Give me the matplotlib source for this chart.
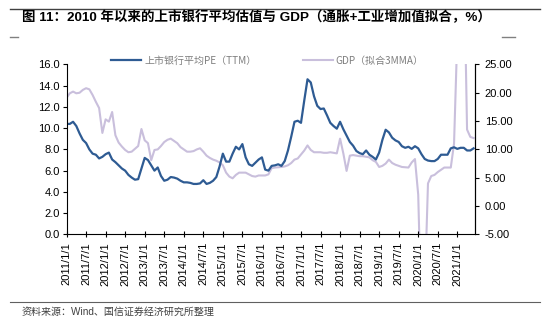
import matplotlib
matplotlib.use('Agg')
import matplotlib.pyplot as plt
import numpy as np

plt.rcParams['font.family'] = ['Liberation Sans', 'Noto Sans CJK SC', 'DejaVu Sans']

# Data (monthly, first point 2011/1)
pe_ttm = [10.4, 10.4, 10.6, 10.2, 9.5, 8.9, 8.6, 8.0, 7.6, 7.5, 7.15, 7.3, 7.55, 7.7, 7.05, 6.8,
          6.5, 6.2, 6.0, 5.6, 5.35, 5.15, 5.2, 6.2, 7.2, 7.0, 6.5, 6.0, 6.3, 5.5, 5.05, 5.15,
          5.4, 5.35, 5.25, 5.05, 4.9, 4.9, 4.85, 4.75, 4.75, 4.8, 5.1, 4.75, 4.85, 5.05, 5.4, 6.4,
          7.6, 6.85, 6.85, 7.6, 8.25, 8.0, 8.5, 7.25, 6.6, 6.45, 6.75, 7.05, 7.25, 6.1, 6.0, 6.45,
          6.5, 6.6, 6.45, 6.9, 7.9, 9.2, 10.6, 10.7, 10.5, 12.6, 14.6, 14.3, 13.0, 12.1, 11.8, 11.85,
          11.2, 10.5, 10.2, 9.95, 10.6, 9.9, 9.3, 8.7, 8.35, 7.85, 7.65, 7.55, 7.9, 7.5, 7.3, 7.05,
          7.7, 8.9, 9.85, 9.6, 9.1, 8.85, 8.7, 8.3, 8.15, 8.25, 8.05, 8.3, 8.1, 7.55, 7.1, 6.95,
          6.9, 6.9, 7.1, 7.5, 7.5, 7.5, 8.1, 8.2, 8.05, 8.15, 8.15, 7.9, 7.9, 8.1]
gdp_fit = [19.1, 19.9, 20.2, 19.9, 20.0, 20.5, 20.8, 20.6, 19.6, 18.4, 17.3, 12.9, 15.3, 14.9, 16.6, 12.5,
           11.2, 10.5, 9.9, 9.5, 9.6, 10.1, 10.6, 13.6, 11.6, 11.1, 8.1, 9.9, 10.0, 10.6, 11.3, 11.7,
           11.9, 11.5, 11.1, 10.4, 10.0, 9.6, 9.6, 9.7, 10.0, 10.2, 9.6, 8.9, 8.5, 8.2, 8.0, 7.7,
           7.2, 5.9, 5.2, 4.9, 5.5, 5.9, 5.9, 5.9, 5.6, 5.3, 5.2, 5.4, 5.4, 5.4, 5.6, 6.7,
           6.8, 6.85, 6.9, 7.0, 7.2, 7.6, 8.2, 8.4, 9.1, 9.8, 10.7, 9.9, 9.5, 9.5, 9.5, 9.4,
           9.4, 9.5, 9.4, 9.3, 11.9, 9.3, 6.2, 8.9, 9.0, 8.9, 8.8, 8.8, 8.7, 8.6, 8.1, 7.8,
           6.9, 7.1, 7.5, 8.2, 7.6, 7.3, 7.1, 6.9, 6.85, 6.8, 7.7, 8.3, 2.0, -20.0, -15.0, 4.0,
           5.3, 5.5, 6.0, 6.4, 6.8, 6.8, 6.8, 11.0, 30.0, 40.0, 45.0, 13.5, 12.2, 12.0]
tick_labels = ['2011/1/1', '2011/7/1', '2012/1/1', '2012/7/1', '2013/1/1', '2013/7/1', '2014/1/1',
               '2014/7/1', '2015/1/1', '2015/7/1', '2016/1/1', '2016/7/1', '2017/1/1', '2017/7/1',
               '2018/1/1', '2018/7/1', '2019/1/1', '2019/7/1', '2020/1/1', '2020/7/1', '2021/1/1']
pe_label = '上市银行平均PE（TTM）'
gdp_label = 'GDP（拟合3MMA）'
title = '图 11：2010 年以来的上市银行平均估值与 GDP（通胀+工业增加值拟合，%）'
source = '资料来源：Wind、国信证券经济研究所整理'

x = np.arange(len(pe_ttm))

fig = plt.figure(figsize=(5.5, 3.22), dpi=100)
ax = fig.add_axes([0.121, 0.272, 0.743, 0.528])
ax2 = ax.twinx()

l2, = ax2.plot(x, gdp_fit, color='#C9BFDC', lw=1.5)
l1, = ax.plot(x, pe_ttm, color='#2E5B93', lw=1.6)
ax.set_zorder(ax2.get_zorder() + 1)
ax.patch.set_visible(False)

ax.set_xlim(0, 125.5)
ax.set_ylim(0, 16)
ax.set_yticks(np.arange(0, 16.1, 2))
ax.set_yticklabels([f'{v:.1f}' for v in np.arange(0, 16.1, 2)])
ax2.set_ylim(-5, 25)
ax2.set_yticks(np.arange(-5, 25.1, 5))
ax2.set_yticklabels([f'{v:.2f}' for v in np.arange(-5, 25.1, 5)])

ax.set_xticks(np.arange(len(tick_labels)) * 6)
ax.set_xticklabels(tick_labels, rotation=90)

for a in (ax, ax2):
    a.spines['top'].set_visible(False)
    a.tick_params(direction='out', length=3, width=0.8, labelsize=8, colors='black', pad=2)
ax.tick_params(axis='x', direction='inout', length=5, pad=3)
ax2.tick_params(axis='y', pad=4)
ax2.spines['left'].set_visible(False)
ax2.spines['bottom'].set_visible(False)

ax.legend([l1, l2], [pe_label, gdp_label], ncol=2, loc='lower left',
          bbox_to_anchor=(0.1, 0.97), frameon=False,
          prop={'family': ['Noto Sans CJK SC'], 'size': 7.2},
          handlelength=3.0, columnspacing=4.6, handletextpad=0.3,
          labelcolor='#7F7F7F', borderaxespad=0)

# header / footer decoration
fig.add_artist(plt.Line2D([0.018, 0.982], [0.972, 0.972], color='#404040', lw=1.0))
fig.add_artist(plt.Line2D([0.018, 0.033], [0.885, 0.885], color='#808080', lw=1.0))
fig.add_artist(plt.Line2D([0.913, 0.937], [0.885, 0.885], color='#808080', lw=1.0))
fig.add_artist(plt.Line2D([0.018, 0.982], [0.062, 0.062], color='#606060', lw=0.8))
fig.text(0.04, 0.945, title, fontsize=9.7, fontweight='bold', va='center', ha='left',
         family=['Liberation Sans', 'Noto Sans CJK SC'])
fig.text(0.04, 0.033, source, fontsize=7.2, va='center', ha='left', color='#404040',
         family=['Liberation Sans', 'Noto Sans CJK SC'])

fig.savefig('out.png', dpi=100)
